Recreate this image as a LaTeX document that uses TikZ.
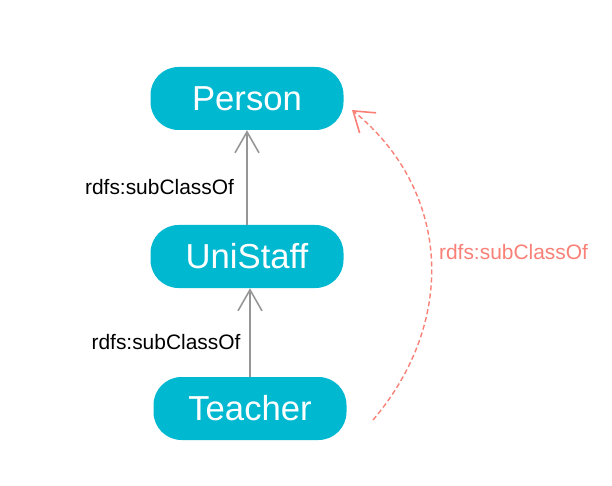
\documentclass[tikz,border=0pt]{standalone}
\usepackage{fontspec}
\setmainfont{Liberation Sans}
\usetikzlibrary{arrows.meta}
\definecolor{boxcyan}{RGB}{0,185,208}
\definecolor{arrgray}{RGB}{150,150,150}
\definecolor{salm}{RGB}{248,128,118}
\tikzset{
  cls/.style={fill=boxcyan, draw=none, rounded corners=28bp, minimum width=193bp, minimum height=63bp, inner sep=0pt, text=white, font=\fontsize{34.8}{40}\selectfont},
  subarrow/.style={draw=arrgray, line width=1.8bp, -{Straight Barb[length=21bp,width=24bp,line width=1.6bp]}},
  redarrow/.style={draw=salm, line width=1.4bp, dash pattern=on 5bp off 3bp, -{Straight Barb[length=19bp,width=26bp,line width=1.6bp]}},
  lbl/.style={font=\fontsize{21}{25}\selectfont, inner sep=0pt},
}
\begin{document}
\begin{tikzpicture}[x=1bp,y=-1bp]
\useasboundingbox (0,0) rectangle (612,486);
\node[cls] (person) at (247,98.5) {Person};
\node[cls] (uni) at (247,256.5) {UniStaff};
\node[cls] (teacher) at (250,408.5) {Teacher};
\draw[subarrow] (uni.north) -- (person.south);
\draw[subarrow] (teacher.north) -- (teacher.north |- uni.south);
\node[lbl, anchor=center] (l1) at (159.5,187) {rdfs:subClassOf};
\node[lbl, anchor=center] (l2) at (166,342) {rdfs:subClassOf};
\coordinate (rs) at (373,420);
\coordinate (re) at (352,110);
\draw[redarrow] (rs) .. controls (458,320) and (450,190) .. (re);
\node[lbl, text=salm, anchor=center] (l3) at (513.5,252) {rdfs:subClassOf};
\end{tikzpicture}
\end{document}
